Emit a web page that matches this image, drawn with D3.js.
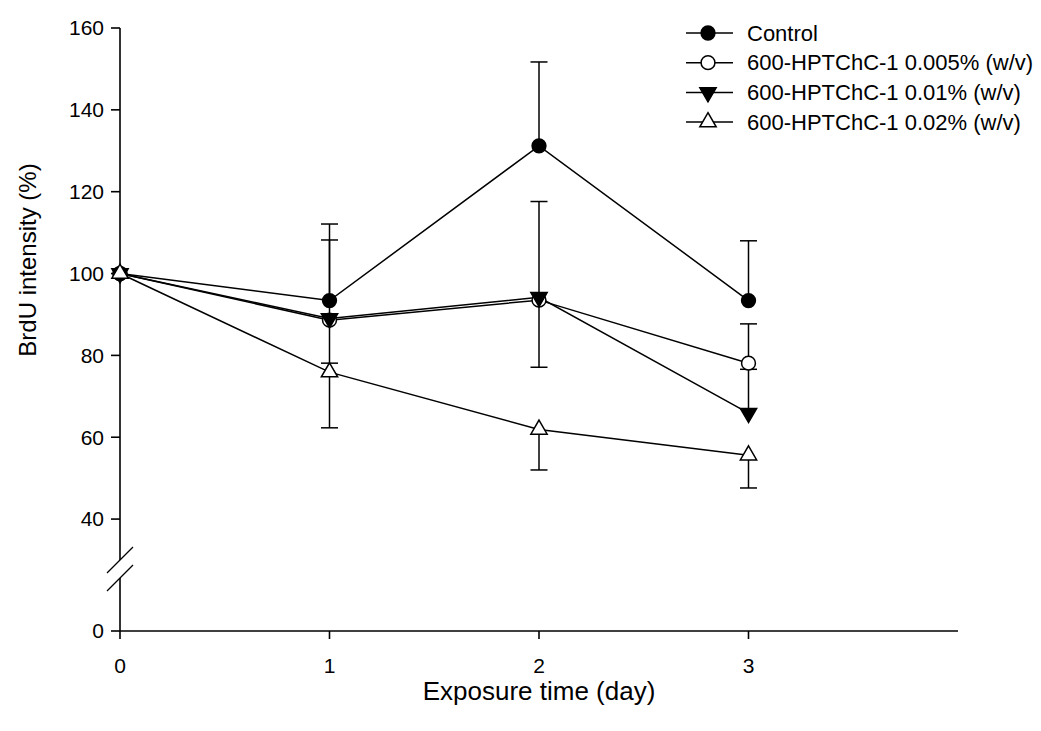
<!DOCTYPE html>
<html>
<head>
<meta charset="utf-8">
<script src="https://cdn.jsdelivr.net/npm/d3@7"></script>
<style>
  body { margin: 0; background: #fff; }
  svg { display: block; font-family: "Liberation Sans", Arial, sans-serif; }
</style>
</head>
<body>
<div id="chart"></div>
<script>
// data
const days = [0, 1, 2, 3];
const xTicks = [0, 1, 2, 3];
const yTicks = [0, 40, 60, 80, 100, 120, 140, 160];

const seriesNames = [
    "Control",
    "600-HPTChC-1 0.005% (w/v)",
    "600-HPTChC-1 0.01% (w/v)",
    "600-HPTChC-1 0.02% (w/v)"
];
const control = [100, 93.4, 131.2, 93.4];
const conc005 = [100, 88.6, 93.5, 78.1];
const conc01 = [100, 89.0, 94.2, 65.9];
const conc02 = [100, 75.9, 61.9, 55.6];

// error bar ends (only the drawn side), null = none
const controlHi = [null, 112.1, 151.7, 108.0];
const conc005Hi = [null, 108.2, 117.6, 87.7];
const conc01Lo = [null, 78.1, 77.1, null];
const conc01Hi = [null, null, null, 76.6];
const conc02Lo = [null, 62.3, 52.0, 47.6];

const width = 1041, height = 731;
const x0 = 120, x1 = 958;
const yBottom = 631, yTop = 28;

const svg = d3.select("#chart").append("svg")
    .attr("width", width)
    .attr("height", height);

const x = d3.scaleLinear().domain([0, 4]).range([x0, x1]);
// broken axis: 0-10 below the break, 30-160 above it
const yUpper = d3.scaleLinear().domain([30, 160]).range([560, yTop]);
const yLower = d3.scaleLinear().domain([0, 10]).range([yBottom, 578]);
const y = v => v >= 30 ? yUpper(v) : yLower(Math.min(v, 10));

const series = [
    { name: seriesNames[0], values: control, hi: controlHi, lo: null, symbol: "circle", fill: "#000" },
    { name: seriesNames[1], values: conc005, hi: conc005Hi, lo: null, symbol: "circle", fill: "#fff" },
    { name: seriesNames[2], values: conc01, hi: conc01Hi, lo: conc01Lo, symbol: "triDown", fill: "#000" },
    { name: seriesNames[3], values: conc02, hi: null, lo: conc02Lo, symbol: "triUp", fill: "#fff" }
];

function symbolPath(type) {
    if (type === "circle") return d3.symbol(d3.symbolCircle, 150)();
    return d3.symbol(d3.symbolTriangle, 115)();
}

function drawSymbol(g, type, fill, cx, cy) {
    g.append("path")
        .attr("d", symbolPath(type))
        .attr("transform", `translate(${cx},${cy})` + (type === "triDown" ? " rotate(180)" : ""))
        .attr("fill", fill)
        .attr("stroke", "#000")
        .attr("stroke-width", 1.5);
}

// axes
const axisG = svg.append("g").attr("stroke", "#000").attr("stroke-width", 1.6);
axisG.append("line").attr("x1", x0).attr("x2", x0).attr("y1", y(160)).attr("y2", y(30));
axisG.append("line").attr("x1", x0).attr("x2", x0).attr("y1", y(10)).attr("y2", yBottom);
axisG.append("line").attr("x1", x0).attr("x2", x1).attr("y1", yBottom).attr("y2", yBottom);

// break marks
[y(30), y(10)].forEach(by => {
    axisG.append("line")
        .attr("x1", x0 - 13).attr("y1", by + 13)
        .attr("x2", x0 + 13).attr("y2", by - 13)
        .attr("stroke-width", 1.3);
});

// y ticks
yTicks.forEach(t => {
    axisG.append("line").attr("x1", x0 - 9).attr("x2", x0).attr("y1", y(t)).attr("y2", y(t));
    svg.append("text")
        .attr("x", x0 - 16).attr("y", y(t))
        .attr("dy", "0.35em")
        .attr("text-anchor", "end")
        .attr("font-size", 21)
        .text(t);
});

// x ticks
xTicks.forEach(t => {
    axisG.append("line").attr("x1", x(t)).attr("x2", x(t)).attr("y1", yBottom).attr("y2", yBottom + 8);
    svg.append("text")
        .attr("x", x(t)).attr("y", yBottom + 42)
        .attr("text-anchor", "middle")
        .attr("font-size", 21)
        .text(t);
});

svg.append("text")
    .attr("x", x(2)).attr("y", 700)
    .attr("text-anchor", "middle")
    .attr("font-size", 26)
    .text("Exposure time (day)");

svg.append("text")
    .attr("transform", `translate(36,260) rotate(-90)`)
    .attr("text-anchor", "middle")
    .attr("font-size", 24)
    .text("BrdU intensity (%)");

// error bars
const errG = svg.append("g").attr("stroke", "#000").attr("stroke-width", 1.5);
series.forEach(s => {
    [s.hi, s.lo].forEach(ends => {
        if (!ends) return;
        ends.forEach((e, i) => {
            if (e == null) return;
            const cx = x(days[i]);
            errG.append("line").attr("x1", cx).attr("x2", cx).attr("y1", y(s.values[i])).attr("y2", y(e));
            errG.append("line").attr("x1", cx - 8.5).attr("x2", cx + 8.5).attr("y1", y(e)).attr("y2", y(e));
        });
    });
});

// lines
const line = d3.line().x((d, i) => x(days[i])).y(d => y(d));
series.forEach(s => {
    svg.append("path")
        .attr("d", line(s.values))
        .attr("fill", "none")
        .attr("stroke", "#000")
        .attr("stroke-width", 1.5);
});

// symbols
series.forEach(s => {
    const g = svg.append("g");
    s.values.forEach((v, i) => drawSymbol(g, s.symbol, s.fill, x(days[i]), y(v)));
});

// legend
const legend = svg.append("g");
series.forEach((s, i) => {
    const ly = 33 + i * 29.7;
    legend.append("line")
        .attr("x1", 686).attr("x2", 733).attr("y1", ly).attr("y2", ly)
        .attr("stroke", "#000").attr("stroke-width", 1.5);
    drawSymbol(legend, s.symbol, s.fill, 708, ly);
    legend.append("text")
        .attr("x", 747).attr("y", ly)
        .attr("dy", "0.35em")
        .attr("font-size", 22)
        .text(s.name);
});
</script>
</body>
</html>
